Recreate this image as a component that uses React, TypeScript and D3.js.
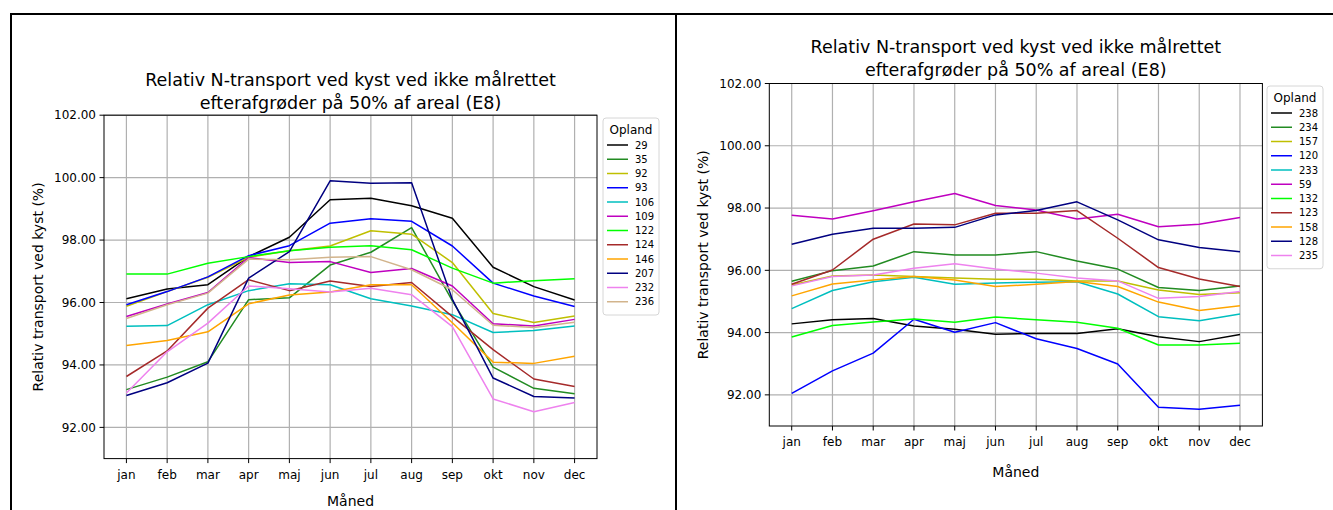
import React from "react";
import * as d3 from "d3";

// Month labels on the x axis
const months = ["jan", "feb", "mar", "apr", "maj", "jun", "jul", "aug", "sep", "okt", "nov", "dec"];
const yTicks = [92, 94, 96, 98, 100, 102];

// Left panel catchments (Opland) – relative N transport (%)
const s29 = [96.12, 96.43, 96.57, 97.47, 98.09, 99.29, 99.34, 99.1, 98.7, 97.13, 96.51, 96.08];
const s35 = [93.21, 93.61, 94.1, 96.09, 96.15, 97.2, 97.61, 98.4, 96.05, 93.93, 93.25, 93.08];
const s92 = [95.88, 96.35, 96.81, 97.45, 97.66, 97.81, 98.3, 98.19, 97.28, 95.65, 95.36, 95.57];
const s93 = [95.93, 96.35, 96.82, 97.5, 97.82, 98.54, 98.68, 98.6, 97.81, 96.62, 96.21, 95.87];
const s106 = [95.24, 95.26, 95.93, 96.38, 96.6, 96.57, 96.12, 95.89, 95.61, 95.04, 95.1, 95.25];
const s109 = [95.55, 95.95, 96.32, 97.44, 97.28, 97.31, 96.96, 97.09, 96.53, 95.32, 95.25, 95.46];
const s122 = [96.91, 96.91, 97.26, 97.47, 97.66, 97.77, 97.82, 97.69, 97.1, 96.62, 96.7, 96.76];
const s124 = [93.63, 94.45, 95.82, 96.73, 96.38, 96.69, 96.51, 96.64, 95.55, 94.49, 93.55, 93.31];
const s146 = [94.62, 94.78, 95.06, 95.96, 96.24, 96.34, 96.57, 96.57, 95.35, 94.09, 94.05, 94.28];
const s207 = [93.02, 93.43, 94.06, 96.78, 97.63, 99.9, 99.82, 99.84, 96.1, 93.58, 92.99, 92.94];
const s232 = [93.1, 94.42, 95.34, 96.53, 96.44, 96.34, 96.46, 96.25, 95.23, 92.91, 92.5, 92.8];
const s236 = [95.49, 95.93, 96.3, 97.39, 97.37, 97.45, 97.47, 97.05, 96.41, 95.27, 95.2, 95.37];

// Right panel catchments
const s238 = [94.28, 94.41, 94.45, 94.21, 94.11, 93.95, 93.97, 93.97, 94.12, 93.87, 93.71, 93.94];
const s234 = [95.65, 95.99, 96.14, 96.6, 96.49, 96.49, 96.6, 96.3, 96.04, 95.45, 95.35, 95.5];
const s157 = [95.53, 95.82, 95.85, 95.8, 95.75, 95.71, 95.71, 95.66, 95.66, 95.37, 95.22, 95.28];
const s120 = [92.05, 92.77, 93.34, 94.43, 94.01, 94.32, 93.8, 93.49, 92.99, 91.6, 91.54, 91.67];
const s233 = [94.77, 95.35, 95.63, 95.78, 95.55, 95.59, 95.62, 95.63, 95.24, 94.51, 94.38, 94.6];
const s59 = [97.77, 97.65, 97.91, 98.2, 98.47, 98.08, 97.94, 97.65, 97.8, 97.4, 97.48, 97.7];
const s132 = [93.86, 94.23, 94.34, 94.44, 94.33, 94.5, 94.41, 94.33, 94.14, 93.6, 93.6, 93.66];
const s123 = [95.55, 96.01, 97.0, 97.49, 97.46, 97.83, 97.83, 97.92, 97.03, 96.09, 95.72, 95.48];
const s158 = [95.18, 95.56, 95.69, 95.8, 95.69, 95.48, 95.55, 95.64, 95.48, 94.98, 94.71, 94.86];
const s128 = [96.84, 97.16, 97.35, 97.35, 97.38, 97.78, 97.92, 98.2, 97.62, 96.98, 96.73, 96.6];
const s235 = [95.5, 95.8, 95.85, 96.07, 96.21, 96.04, 95.91, 95.75, 95.66, 95.1, 95.16, 95.32];

const leftIds = ["29", "35", "92", "93", "106", "109", "122", "124", "146", "207", "232", "236"];
const leftValues = [s29, s35, s92, s93, s106, s109, s122, s124, s146, s207, s232, s236];
const rightIds = ["238", "234", "157", "120", "233", "59", "132", "123", "158", "128", "235"];
const rightValues = [s238, s234, s157, s120, s233, s59, s132, s123, s158, s128, s235];

// Line colours, in legend order
const leftColors = ["#000000", "#228b22", "#bfbf00", "#0000ff", "#00bfbf", "#bf00bf", "#00ff00", "#a52a2a", "#ffa500", "#000080", "#ee82ee", "#d2b48c"];
const rightColors = ["#000000", "#228b22", "#bfbf00", "#0000ff", "#00bfbf", "#bf00bf", "#00ff00", "#a52a2a", "#ffa500", "#000080", "#ee82ee"];

const titleLines = ["Relativ N-transport ved kyst ved ikke målrettet", "efterafgrøder på 50% af areal (E8)"];

const FONT = "DejaVu Sans, sans-serif";

type PanelProps = {
  left: number;
  right: number;
  top: number;
  bottom: number;
  titleY: number;
  xLabelGap: number;
  ids: string[];
  values: number[][];
  colors: string[];
  legendX: number;
  legendY: number;
};

function Panel({ left, right, top, bottom, titleY, xLabelGap, ids, values, colors, legendX, legendY }: PanelProps) {
  const x = d3.scalePoint<string>().domain(months).range([left, right]).padding(0.55);
  const y = d3.scaleLinear().domain([91, 102]).range([bottom, top]);
  const line = d3
    .line<number>()
    .x((_, i) => x(months[i]) as number)
    .y((v) => y(v));
  const cx = (left + right) / 2;
  const cy = (top + bottom) / 2;
  const rowH = 14.25;
  const legendW = 56;
  const legendH = 26 + ids.length * rowH;
  const clipId = `clip-${Math.round(left)}`;

  return (
    <g>
      <defs>
        <clipPath id={clipId}>
          <rect x={left} y={top} width={right - left} height={bottom - top} />
        </clipPath>
      </defs>
      {/* grid */}
      {months.map((m) => (
        <line key={m} x1={x(m)} x2={x(m)} y1={top} y2={bottom} stroke="#b0b0b0" strokeWidth={1.2} />
      ))}
      {yTicks.map((t) => (
        <line key={t} x1={left} x2={right} y1={y(t)} y2={y(t)} stroke="#b0b0b0" strokeWidth={1.2} />
      ))}
      {/* series */}
      <g clipPath={`url(#${clipId})`}>
        {values.map((vals, i) => (
          <path key={ids[i]} d={line(vals) ?? ""} fill="none" stroke={colors[i]} strokeWidth={1.5} strokeLinejoin="round" />
        ))}
      </g>
      {/* frame */}
      <rect x={left} y={top} width={right - left} height={bottom - top} fill="none" stroke="#000" strokeWidth={1} />
      {/* y ticks */}
      {yTicks.map((t) => (
        <g key={t}>
          <line x1={left - 4.5} x2={left} y1={y(t)} y2={y(t)} stroke="#000" strokeWidth={1} />
          <text x={left - 8} y={y(t)} dy="0.35em" textAnchor="end" fontSize={12} fontFamily={FONT} fill="#000">
            {t.toFixed(2)}
          </text>
        </g>
      ))}
      {/* x ticks */}
      {months.map((m) => (
        <g key={m}>
          <line x1={x(m)} x2={x(m)} y1={bottom} y2={bottom + 4.5} stroke="#000" strokeWidth={1} />
          <text x={x(m)} y={bottom + 20} textAnchor="middle" fontSize={12} fontFamily={FONT} fill="#000">
            {m}
          </text>
        </g>
      ))}
      {/* labels */}
      <text x={cx} y={bottom + xLabelGap} textAnchor="middle" fontSize={14} fontFamily={FONT} fill="#000">
        Måned
      </text>
      <text
        transform={`translate(${left - 61},${cy}) rotate(-90)`}
        textAnchor="middle"
        fontSize={14}
        fontFamily={FONT}
        fill="#000"
      >
        Relativ transport ved kyst (%)
      </text>
      {titleLines.map((t, i) => (
        <text key={i} x={cx} y={titleY + i * 22.5} textAnchor="middle" fontSize={17.5} fontFamily={FONT} fill="#000">
          {t}
        </text>
      ))}
      {/* legend */}
      <g transform={`translate(${legendX},${legendY})`}>
        <rect x={0} y={0} width={legendW} height={legendH} rx={3} fill="#fff" stroke="#d6d6d6" strokeWidth={1} />
        <text x={legendW / 2} y={16} textAnchor="middle" fontSize={12} fontFamily={FONT} fill="#000">
          Opland
        </text>
        {ids.map((id, i) => (
          <g key={id} transform={`translate(0,${27 + i * rowH})`}>
            <line x1={4} x2={25} y1={0} y2={0} stroke={colors[i]} strokeWidth={1.5} />
            <text x={32} y={0} dy="0.35em" fontSize={10} fontFamily={FONT} fill="#000">
              {id}
            </text>
          </g>
        ))}
      </g>
    </g>
  );
}

export default function App() {
  return (
    <svg
      width={1333}
      height={510}
      style={{ position: "absolute", left: 0, top: 0, background: "#fff" }}
      xmlns="http://www.w3.org/2000/svg"
    >
      <rect x={0} y={0} width={1333} height={510} fill="#fff" />
      {/* surrounding frame */}
      <line x1={10} x2={1333} y1={14} y2={14} stroke="#000" strokeWidth={2} />
      <line x1={11} x2={11} y1={13} y2={510} stroke="#000" strokeWidth={2} />
      <line x1={676} x2={676} y1={13} y2={510} stroke="#000" strokeWidth={2} />
      <Panel
        left={104}
        right={597}
        top={115.2}
        bottom={458.6}
        titleY={86}
        xLabelGap={47}
        ids={leftIds}
        values={leftValues}
        colors={leftColors}
        legendX={603}
        legendY={118}
      />
      <Panel
        left={769.3}
        right={1262.4}
        top={83.5}
        bottom={426}
        titleY={53}
        xLabelGap={51}
        ids={rightIds}
        values={rightValues}
        colors={rightColors}
        legendX={1267}
        legendY={86}
      />
    </svg>
  );
}
